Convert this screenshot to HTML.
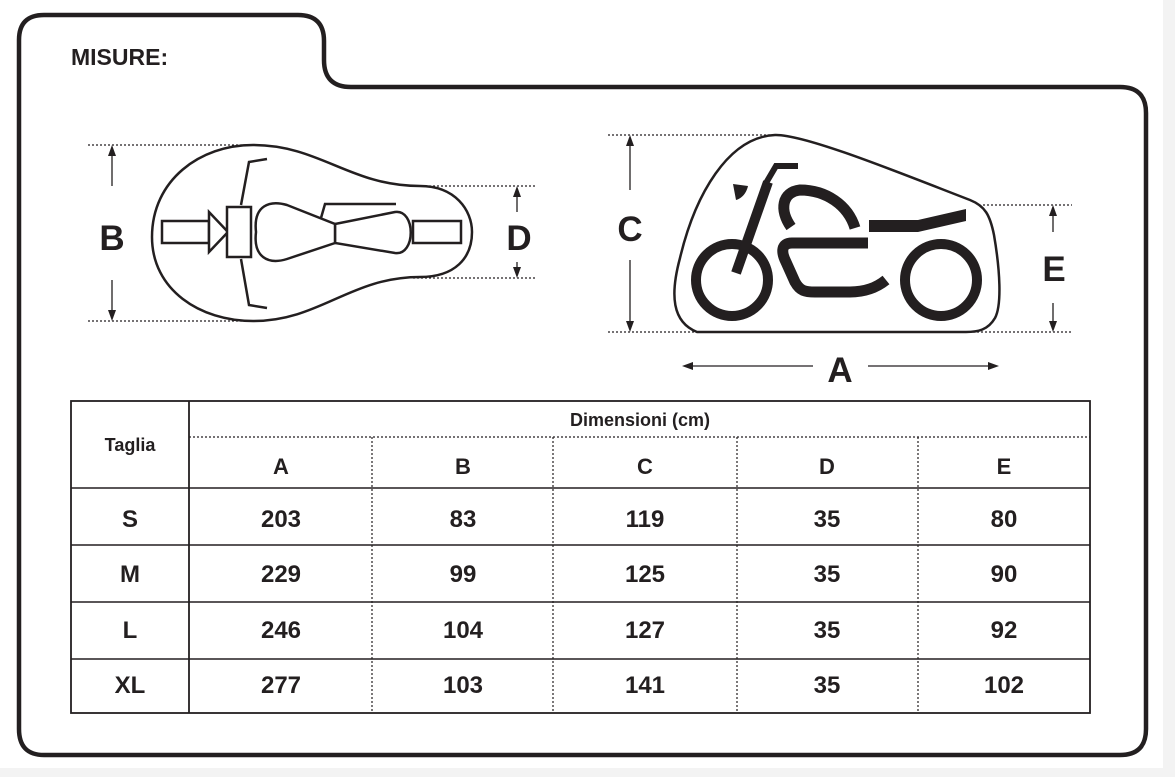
<!DOCTYPE html>
<html><head><meta charset="utf-8"><style>
html,body{margin:0;padding:0;background:#fff;}
svg{display:block;}
text{font-family:"Liberation Sans",Arial,sans-serif;font-weight:bold;fill:#231f20;}
</style></head><body>
<svg width="1175" height="777" viewBox="0 0 1175 777" xmlns="http://www.w3.org/2000/svg">
<rect x="0" y="0" width="1175" height="777" fill="#fff"/>
<rect x="1163" y="0" width="12" height="777" fill="#f3f3f3"/>
<rect x="0" y="768" width="1175" height="9" fill="#f3f3f3"/>
<path d="M19 40 Q19 15 44 15 L298 15 Q324 15 324 41 L324 60 Q324 87 351 87 L1120 87 Q1146 87 1146 113 L1146 729 Q1146 755 1120 755 L44 755 Q19 755 19 729 Z" fill="none" stroke="#231f20" stroke-width="4.5"/>
<text x="71" y="65" font-size="23">MISURE:</text>

<g stroke="#231f20" fill="none">
<g stroke-dasharray="2,2" stroke-width="1.2">
<line x1="88" y1="145" x2="255" y2="145"/><line x1="88" y1="321" x2="255" y2="321"/>
<line x1="413" y1="186" x2="535" y2="186"/><line x1="413" y1="278" x2="535" y2="278"/>
</g>
<path d="M152 237 C152 180 200 145 253 145 C320 145 350 186 420 186 C455 186 472 210 472 232 C472 258 455 277 420 277 C350 277 320 321 253 321 C200 321 152 290 152 237 Z" stroke-width="2.5" fill="#fff"/>
<g stroke-width="2.5" fill="#fff">
<rect x="162" y="221" width="47" height="22"/>
<polygon points="209,212 209,252 228,232"/>
<rect x="227" y="207" width="24" height="50"/>
<path d="M335 224 L395 212 C416 209 416 256 395 253 L335 243 Z"/>
<path d="M256 232 C253 205 270 200 287 205 L335 224 L335 243 L287 259 C268 265 253 257 256 232 Z"/>
<rect x="413" y="221" width="48" height="22"/>
<polyline points="321,218 325,204 396,204" fill="none"/>
<polyline points="267,159 249,162 241,205" fill="none"/>
<polyline points="241,259 249,305 267,308" fill="none"/>
</g>
<g stroke-width="1.3">
<line x1="112" y1="150" x2="112" y2="186"/><line x1="112" y1="280" x2="112" y2="316"/>
<line x1="517" y1="191" x2="517" y2="212"/><line x1="517" y1="262" x2="517" y2="273"/>
</g>
<g stroke-dasharray="2,2" stroke-width="1.2">
<line x1="608" y1="135" x2="775" y2="135"/><line x1="608" y1="332" x2="700" y2="332"/>
<line x1="965" y1="332" x2="1072" y2="332"/><line x1="983" y1="205" x2="1072" y2="205"/>
</g>
<path d="M697 332 C672 322 670 295 680 258 C695 195 728 137 775 135 C805 134 905 175 970 200 C985 206 990 215 994 235 C1000 270 1002 305 995 318 C988 330 978 332 966 332 Z" stroke-width="2.5"/>
<circle cx="732" cy="280" r="36" stroke-width="10"/>
<circle cx="941" cy="280" r="36" stroke-width="10"/>
<line x1="736" y1="273" x2="768" y2="182" stroke-width="10"/>
<polyline points="766,183 776,166 798,166" stroke-width="6"/>
<path d="M791 227 C779 210 782 192 800 190 C826 190 848 205 855 228" stroke-width="11"/>
<path d="M868 243 L792 243 C781 243 781 252 786 262 L795 282 C800 291 805 292 815 292 L850 292 C865 292 876 288 886 280" stroke-width="11"/>
<g stroke-width="1.3">
<line x1="630" y1="140" x2="630" y2="190"/><line x1="630" y1="260" x2="630" y2="327"/>
<line x1="1053" y1="210" x2="1053" y2="232"/><line x1="1053" y1="303" x2="1053" y2="327"/>
<line x1="688" y1="366" x2="813" y2="366"/><line x1="868" y1="366" x2="993" y2="366"/>
</g>
</g>
<g fill="#231f20">
<polygon points="869,220 918,220 966,209 966,221 918,232 869,232"/>
<path d="M733 184 L748 186 C746 195 740 199 736 200 Z"/>
<polygon points="112,145 108,156 116,156"/><polygon points="112,321 108,310 116,310"/>
<polygon points="517,186 513,197 521,197"/><polygon points="517,278 513,267 521,267"/>
<polygon points="630,135 626,146 634,146"/><polygon points="630,332 626,321 634,321"/>
<polygon points="1053,205 1049,216 1057,216"/><polygon points="1053,332 1049,321 1057,321"/>
<polygon points="682,366 693,362 693,370"/><polygon points="999,366 988,362 988,370"/>
</g>
<g font-size="35" text-anchor="middle">
<text x="112" y="250">B</text><text x="519" y="250">D</text>
<text x="630" y="241">C</text><text x="1054" y="281">E</text>
<text x="840" y="382">A</text>
</g>

<g stroke="#231f20" fill="none">
<rect x="71" y="401" width="1019" height="312" stroke-width="1.8"/>
<line x1="189" y1="401" x2="189" y2="713" stroke-width="1.8"/>
<g stroke-width="1.6">
<line x1="71" y1="488" x2="1090" y2="488"/><line x1="71" y1="545" x2="1090" y2="545"/>
<line x1="71" y1="602" x2="1090" y2="602"/><line x1="71" y1="659" x2="1090" y2="659"/>
</g>
<g stroke-dasharray="2,2" stroke-width="1.2">
<line x1="189" y1="437" x2="1090" y2="437"/>
<line x1="372" y1="437" x2="372" y2="713"/><line x1="553" y1="437" x2="553" y2="713"/>
<line x1="737" y1="437" x2="737" y2="713"/><line x1="918" y1="437" x2="918" y2="713"/>
</g>
</g>
<text x="130" y="451" font-size="18" text-anchor="middle">Taglia</text>
<text x="640" y="426" font-size="18" text-anchor="middle">Dimensioni (cm)</text>
<g font-size="22" text-anchor="middle">
<text x="281" y="474">A</text><text x="463" y="474">B</text><text x="645" y="474">C</text><text x="827" y="474">D</text><text x="1004" y="474">E</text>
</g>
<g font-size="24" text-anchor="middle">
<text x="130" y="527">S</text><text x="281" y="527">203</text><text x="463" y="527">83</text><text x="645" y="527">119</text><text x="827" y="527">35</text><text x="1004" y="527">80</text>
<text x="130" y="582">M</text><text x="281" y="582">229</text><text x="463" y="582">99</text><text x="645" y="582">125</text><text x="827" y="582">35</text><text x="1004" y="582">90</text>
<text x="130" y="638">L</text><text x="281" y="638">246</text><text x="463" y="638">104</text><text x="645" y="638">127</text><text x="827" y="638">35</text><text x="1004" y="638">92</text>
<text x="130" y="693">XL</text><text x="281" y="693">277</text><text x="463" y="693">103</text><text x="645" y="693">141</text><text x="827" y="693">35</text><text x="1004" y="693">102</text>
</g>
</svg>
</body></html>
